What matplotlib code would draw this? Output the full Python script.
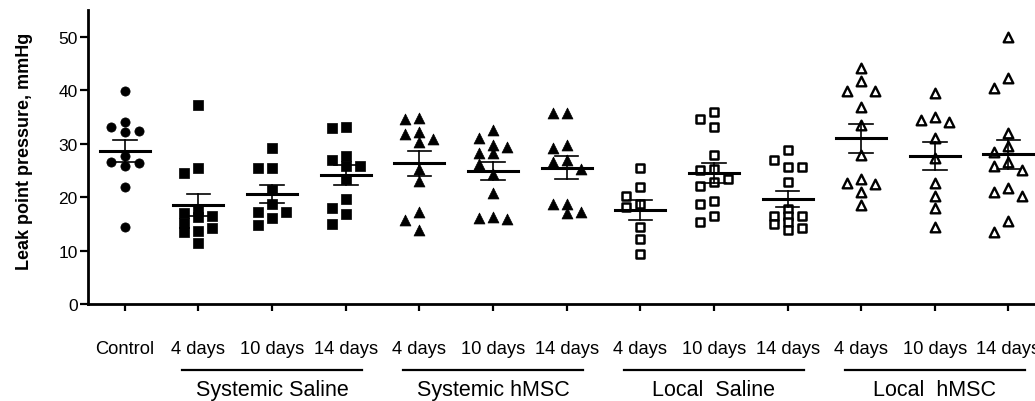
import numpy as np
import matplotlib
matplotlib.use("Agg")
from matplotlib import pyplot as plt

plt.rcParams["font.family"] = ["Liberation Sans", "DejaVu Sans"]

# leak point pressure (mmHg), one list per column
control = [39.8, 34.0, 32.4, 32.1, 33.2, 27.6, 26.5, 25.8, 26.4, 21.8, 14.4]
sys_saline_4 = [37.3, 25.4, 24.6, 16.5, 15.2, 13.7, 17.0, 17.8, 16.2, 14.2, 13.5, 11.4]
sys_saline_10 = [29.2, 25.5, 25.5, 21.3, 18.7, 17.2, 17.3, 16.0, 14.8]
sys_saline_14 = [33.0, 33.1, 27.6, 25.9, 27.0, 25.9, 23.4, 19.6, 17.9, 16.9, 15.0]
sys_hmsc_4 = [34.6, 34.8, 32.1, 30.9, 31.8, 30.4, 25.2, 23.0, 17.2, 15.8, 13.8]
sys_hmsc_10 = [32.5, 31.1, 29.7, 28.2, 29.4, 28.3, 26.2, 24.3, 20.8, 16.2, 15.9, 16.0]
sys_hmsc_14 = [35.8, 35.8, 29.2, 29.8, 27.0, 26.5, 25.2, 18.7, 18.7, 17.0, 17.2]
loc_saline_4 = [25.4, 21.8, 20.3, 18.8, 18.2, 14.5, 12.2, 9.4]
loc_saline_10 = [36.0, 34.6, 33.1, 27.8, 25.3, 25.0, 23.4, 22.0, 22.8, 19.3, 18.7, 16.4, 15.3]
loc_saline_14 = [28.9, 26.9, 25.7, 25.6, 22.9, 17.7, 16.4, 16.4, 16.4, 15.3, 15.0, 14.2, 13.9]
loc_hmsc_4 = [44.1, 41.7, 39.9, 39.8, 36.8, 33.5, 27.8, 22.7, 22.5, 23.3, 21.0, 18.5]
loc_hmsc_10 = [39.5, 34.5, 34.0, 35.0, 31.0, 27.3, 22.7, 20.3, 17.9, 14.4]
loc_hmsc_14 = [49.9, 42.3, 40.4, 32.0, 29.5, 28.4, 26.5, 25.0, 25.8, 21.0, 20.2, 21.7, 13.5, 15.6]

columns = [control,
           sys_saline_4, sys_saline_10, sys_saline_14,
           sys_hmsc_4, sys_hmsc_10, sys_hmsc_14,
           loc_saline_4, loc_saline_10, loc_saline_14,
           loc_hmsc_4, loc_hmsc_10, loc_hmsc_14]
tick_labels = ["Control"] + ["4 days", "10 days", "14 days"] * 4
group_names = ["Systemic Saline", "Systemic hMSC", "Local  Saline", "Local  hMSC"]
group_centers = [2, 5, 8, 11]

# marker style for each column
styles = ([dict(marker="o", s=44, facecolor="black", edgecolor="black", linewidths=0.5)]
          + [dict(marker="s", s=50, facecolor="black", edgecolor="black", linewidths=0.5)] * 3
          + [dict(marker="^", s=62, facecolor="black", edgecolor="black", linewidths=0.5)] * 3
          + [dict(marker="s", s=40, facecolor="white", edgecolor="black", linewidths=1.8)] * 3
          + [dict(marker="^", s=48, facecolor="white", edgecolor="black", linewidths=1.7)] * 3)


def swarm_offsets(values, step=0.19, thr=2.1):
    """Greedy column layout: push a point sideways when it would overlap."""
    values = np.asarray(values)
    order = np.argsort(values)[::-1]
    slots = [0, -1, 1]
    placed = {k: [] for k in slots}
    offs = np.zeros(len(values))
    for i in order:
        v = values[i]
        best, best_gap = None, -1
        for k in slots:
            gap = min([abs(v - p) for p in placed[k]], default=np.inf)
            if gap >= thr:
                best = k
                break
            if gap > best_gap:
                best, best_gap = k, gap
        placed[best].append(v)
        offs[i] = best * step
    return offs


fig = plt.figure(figsize=(10.35, 4.02), dpi=100)
ax = fig.add_axes([88 / 1035, 1 - 305 / 402, 1 - 88 / 1035, (305 - 10.5) / 402])

for i, vals in enumerate(columns):
    vals = np.asarray(vals)
    x = i + swarm_offsets(vals)
    ax.scatter(x, vals, zorder=3, clip_on=False, **styles[i])
    mean = vals.mean()
    sem = vals.std(ddof=1) / np.sqrt(len(vals))
    ax.plot([i - 0.34, i + 0.34], [mean, mean], color="black", lw=2.2, zorder=4)
    ax.plot([i, i], [mean - sem, mean + sem], color="black", lw=1.2, zorder=4)
    for y in (mean - sem, mean + sem):
        ax.plot([i - 0.16, i + 0.16], [y, y], color="black", lw=1.2, zorder=4)

ax.set_xlim(-0.5, 12.36)
ax.set_ylim(0, 55.1)
ax.set_yticks([0, 10, 20, 30, 40, 50])
ax.set_xticks(range(len(columns)))
ax.set_xticklabels(tick_labels)
ax.tick_params(axis="y", length=6, width=1.6, pad=1.5, labelsize=12.5)
ax.tick_params(axis="x", length=5, width=1.6, pad=21, labelsize=13.2)

for side in ("top", "right"):
    ax.spines[side].set_visible(False)
for side in ("left", "bottom"):
    ax.spines[side].set_linewidth(2.0)

ax.set_ylabel("Leak point pressure, mmHg", fontsize=13, fontweight="bold")
ax.yaxis.set_label_coords(-0.058, 0.52)

# group brackets under the tick labels
trans = ax.get_xaxis_transform()
for name, c in zip(group_names, group_centers):
    ax.plot([c - 1.22, c + 1.22], [-0.224, -0.224], color="black", lw=1.6,
            transform=trans, clip_on=False)
    ax.text(c, -0.29, name, transform=trans, ha="center", va="center", fontsize=15.5)

fig.savefig("out.png", dpi=100)
